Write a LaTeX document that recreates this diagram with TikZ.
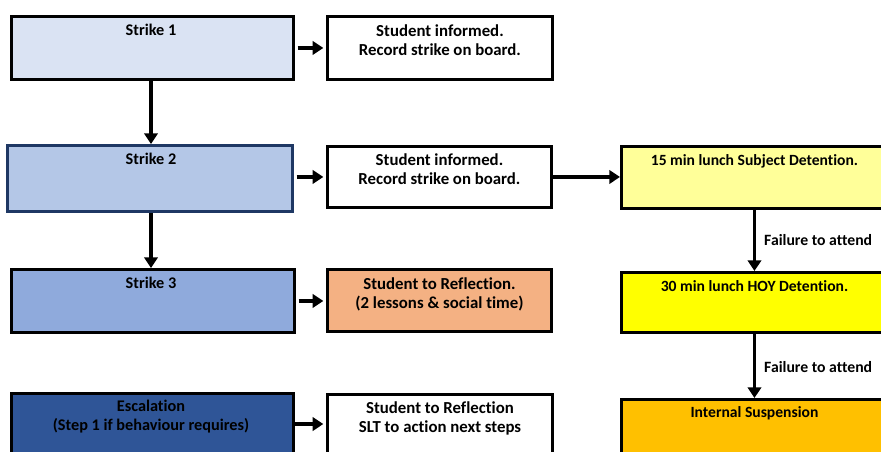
\documentclass[tikz,border=0pt]{standalone}
\usepackage{fontspec}
\setmainfont[Ligatures=NoCommon]{Carlito}
\usetikzlibrary{arrows.meta}
\definecolor{cS1}{HTML}{DAE3F3}
\definecolor{cS2}{HTML}{B4C7E7}
\definecolor{cS3}{HTML}{8FAADC}
\definecolor{cS4}{HTML}{2F5597}
\definecolor{cNavy}{HTML}{1F3864}
\definecolor{cOrange}{HTML}{F4B183}
\definecolor{cYel1}{HTML}{FFFF99}
\definecolor{cYel2}{HTML}{FFFF00}
\definecolor{cGold}{HTML}{FFC000}
\tikzset{
  boxstyle/.style={draw=black, line width=2.2pt, rectangle, inner sep=0pt, anchor=north west},
  txt/.style={font=\fontsize{12.6}{14.3}\selectfont\bfseries, align=center, anchor=north, inner sep=0pt},
  txtl/.style={txt, font=\fontsize{12.2}{14.3}\selectfont\bfseries},
  txtr/.style={txt, font=\fontsize{11.7}{14.3}\selectfont\bfseries},
  arr/.style={line width=2.6pt, -{Triangle[length=8pt,width=10pt]}},
  lbl/.style={font=\fontsize{11.8}{14.3}\selectfont\bfseries, anchor=west, inner sep=0pt}
}
\begin{document}
\begin{tikzpicture}[x=0.75pt,y=-0.75pt]
\useasboundingbox (0,0) rectangle (881,451);
\clip (0,0) rectangle (881,451);
\fill[white] (0,0) rectangle (881,451);
% left column
\node[boxstyle, fill=cS1, minimum width=282*0.75pt, minimum height=63*0.75pt] (s1) at (10,15) {};
\node[boxstyle, fill=cS2, draw=cNavy, minimum width=285*0.75pt, minimum height=66*0.75pt] (s2) at (6,144) {};
\node[boxstyle, fill=cS3, minimum width=283*0.75pt, minimum height=63*0.75pt] (s3) at (10,268) {};
\node[boxstyle, fill=cS4, minimum width=282*0.75pt, minimum height=80*0.75pt] (s4) at (10,392) {};
% middle column
\node[boxstyle, fill=white, minimum width=225*0.75pt, minimum height=63*0.75pt] (i1) at (326,15) {};
\node[boxstyle, fill=white, minimum width=224*0.75pt, minimum height=61*0.75pt] (i2) at (326,145) {};
\node[boxstyle, fill=cOrange, minimum width=224*0.75pt, minimum height=62*0.75pt] (r3) at (326,268) {};
\node[boxstyle, fill=white, minimum width=225*0.75pt, minimum height=80*0.75pt] (r4) at (326,393) {};
% right column
\node[boxstyle, fill=cYel1, minimum width=266*0.75pt, minimum height=62*0.75pt] (d1) at (620,145) {};
\node[boxstyle, fill=cYel2, minimum width=266*0.75pt, minimum height=60*0.75pt] (d2) at (620,271) {};
\node[boxstyle, fill=cGold, minimum width=266*0.75pt, minimum height=80*0.75pt] (d3) at (620,398) {};
% texts
\node[txtl] (s1t) at ([yshift=-9*0.75pt]s1.north -| 151,0) {Strike 1};
\node[txtl] (s2t) at ([yshift=-9*0.75pt]s2.north -| 151,0) {Strike 2};
\node[txtl] (s3t) at ([yshift=-9*0.75pt]s3.north -| 151,0) {Strike 3};
\node[txtl] (s4t) at ([yshift=-8*0.75pt]s4.north -| 151,0) {Escalation\\(Step 1 if behaviour requires)};
\node[txt] (i1t) at ([yshift=-9*0.75pt]i1.north) {Student informed.\\Record strike on board.};
\node[txt] (i2t) at ([yshift=-8*0.75pt]i2.north) {Student informed.\\Record strike on board.};
\node[txt] (r3t) at ([yshift=-9*0.75pt]r3.north) {Student to Reflection.\\(2 lessons \& social time)};
\node[txt] (r4t) at ([yshift=-8*0.75pt]r4.north) {Student to Reflection\\SLT to action next steps};
\node[txtr] (d1t) at ([yshift=-9*0.75pt]d1.north) {15 min lunch Subject Detention.};
\node[txtr] (d2t) at ([yshift=-9*0.75pt]d2.north) {30 min lunch HOY Detention.};
\node[txtr] (d3t) at ([yshift=-8*0.75pt]d3.north) {Internal Suspension};
% arrows
\draw[arr] (s1.south -| 151,0) -- (s2.north -| 151,0);
\draw[arr] (s2.south -| 151,0) -- (s3.north -| 151,0);
\draw[arr] ([xshift=2pt]s1.east) -- ([xshift=-2pt]s1.east -| i1.west);
\draw[arr] ([xshift=2pt]s2.east |- i2.east) -- ([xshift=-2pt]i2.west);
\draw[arr] ([xshift=2pt]s3.east) -- ([xshift=-2pt]s3.east -| r3.west);
\coordinate (e4) at (292,424);
\draw[arr] ([xshift=2pt]e4) -- ([xshift=-2pt]e4 -| r4.west);
\draw[arr] (i2.east) -- (i2.east -| d1.west);
\draw[arr] (d1.south) -- (d2.north) node[lbl, pos=0.5, xshift=8*0.75pt] (f1) {Failure to attend};
\draw[arr] (d2.south) -- (d3.north) node[lbl, pos=0.52, xshift=8*0.75pt] (f2) {Failure to attend};
\end{tikzpicture}
\end{document}
